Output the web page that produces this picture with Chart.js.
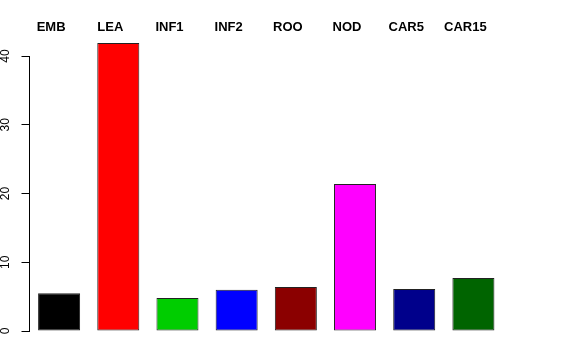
<!DOCTYPE html>
<html>
<head>
<meta charset="utf-8">
<script src="https://cdn.jsdelivr.net/npm/chart.js@4/dist/chart.umd.min.js"></script>
<style>
html,body{margin:0;padding:0;background:#fff;}
#wrap{width:576px;height:360px;}
</style>
</head>
<body>
<div id="wrap"><canvas id="c" width="576" height="360"></canvas></div>
<script>
const categories = ["EMB","LEA","INF1","INF2","ROO","NOD","CAR5","CAR15"];
const values = [5.5, 41.9, 4.8, 6.0, 6.4, 21.4, 6.1, 7.7];
const barColors = ["#000000","#FF0000","#00CD00","#0000FF","#8B0000","#FF00FF","#00008B","#006400"];
const yTicks = [0,10,20,30,40];

new Chart(document.getElementById('c'), {
  type: 'bar',
  data: {
    labels: categories,
    datasets: [{
      data: values,
      backgroundColor: barColors,
      borderColor: '#222222',
      borderWidth: 1,
      borderSkipped: false,
      barPercentage: 0.71,
      categoryPercentage: 1.0,
      clip: false
    }]
  },
  options: {
    responsive: false,
    animation: false,
    devicePixelRatio: 1,
    layout: { padding: { left: 0, right: 73, top: 0, bottom: 29 } },
    plugins: { legend: { display: false }, tooltip: { enabled: false } },
    scales: {
      x: {
        position: 'top',
        grid: { display: false, drawTicks: false },
        border: { display: false },
        ticks: {
          color: '#000',
          font: { family: 'Liberation Sans', size: 13, weight: 'bold' },
          labelOffset: -8,
          padding: 21,
          maxRotation: 0,
          minRotation: 0
        },
        afterFit: s => { s.height = 56; }
      },
      y: {
        min: 0,
        max: 40,
        afterBuildTicks: s => { s.ticks = yTicks.map(v => ({ value: v })); },
        grid: { drawOnChartArea: false, drawTicks: true, tickLength: 8, color: '#000', tickColor: '#000' },
        border: { display: true, color: '#000', width: 1 },
        ticks: {
          color: '#000',
          font: { family: 'Liberation Sans', size: 12 },
          minRotation: 90,
          maxRotation: 90,
          crossAlign: 'center',
          padding: 9
        },
        afterFit: s => { s.width = 29.5; }
      }
    }
  }
});
</script>
</body>
</html>
